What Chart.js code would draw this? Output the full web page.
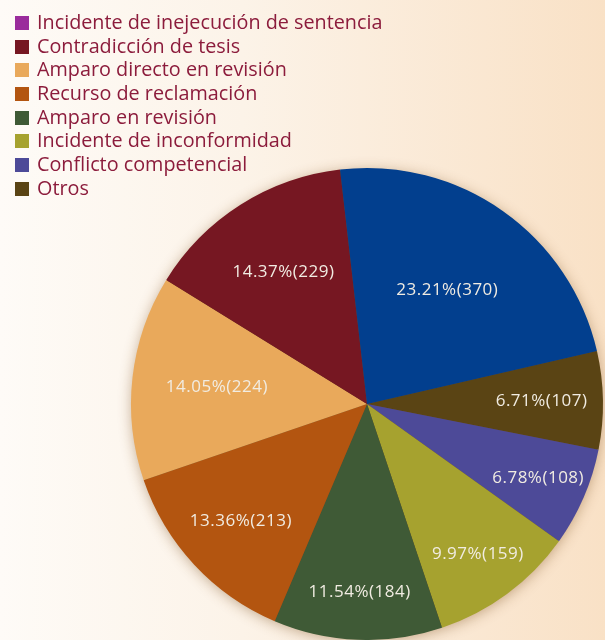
<!DOCTYPE html>
<html>
<head>
<meta charset="utf-8">
<script src="https://cdn.jsdelivr.net/npm/chart.js@4"></script>
<style>
  html, body { margin: 0; padding: 0; }
  body { width: 605px; height: 640px; overflow: hidden;
    background: linear-gradient(to right, #fefbf7 0%, #fcf3e8 40%, #f9e1c6 100%); position: relative; }
  #wrap { position: absolute; left: 0; top: 0; width: 605px; height: 640px; }
  #legend { position: absolute; left: 15px; top: 10px; font-family: "Open Sans", "Noto Sans", sans-serif;
    font-size: 19.8px; color: #8c1c3c; }
  #legend .row { height: 23.7px; line-height: 23.7px; white-space: nowrap; }
  #legend .sw { display: inline-block; width: 14px; height: 14px; margin-right: 8px; vertical-align: -1px; }
</style>
</head>
<body>
<div id="wrap"><canvas id="c" width="605" height="640"></canvas></div>
<div id="legend"></div>
<script>
const categories = [
  "Incidente de inejecución de sentencia",
  "Contradicción de tesis",
  "Amparo directo en revisión",
  "Recurso de reclamación",
  "Amparo en revisión",
  "Incidente de inconformidad",
  "Conflicto competencial",
  "Otros"
];
const counts = [370, 229, 224, 213, 184, 159, 108, 107];
const percentLabels = ["23.21%", "14.37%", "14.05%", "13.36%", "11.54%", "9.97%", "6.78%", "6.71%"];
const sliceColors = ["#023f8e", "#761722", "#e9a95b", "#b35510", "#3f5a36", "#a6a22f", "#4d4a98", "#5a4414"];
const legendColors = ["#9a2c9c", "#761722", "#e9a95b", "#b35510", "#3f5a36", "#a6a22f", "#4d4a98", "#5a4414"];

// legend
const lg = document.getElementById('legend');
categories.forEach((c, i) => {
  const r = document.createElement('div'); r.className = 'row';
  const s = document.createElement('span'); s.className = 'sw'; s.style.background = legendColors[i];
  r.appendChild(s); r.appendChild(document.createTextNode(c)); lg.appendChild(r);
});

// pie is drawn counter-clockwise in legend order -> reverse for Chart.js (clockwise)
const order = counts.map((_, i) => i).reverse();
const dataVals = order.map(i => counts[i]);
const dataLabels = order.map(i => categories[i]);
const dataColors = order.map(i => sliceColors[i]);
const dataText = order.map(i => percentLabels[i] + "(" + counts[i] + ")");

// label distance from centre (fraction of radius), legend order — styling only
const labelRadiusStyle = [0.59, 0.66, 0.64, 0.73, 0.80, 0.79, 0.79, 0.74];
const labelRadius = order.map(i => labelRadiusStyle[i]);

const shadowPlugin = {
  id: 'shadow',
  beforeDatasetsDraw(chart) {
    const meta = chart.getDatasetMeta(0);
    const a = meta.data[0];
    const ctx = chart.ctx;
    ctx.save();
    ctx.shadowColor = 'rgba(120,70,20,0.45)';
    ctx.shadowBlur = 14;
    ctx.shadowOffsetX = 0; ctx.shadowOffsetY = 2;
    ctx.fillStyle = '#6a4a2a';
    ctx.beginPath();
    ctx.arc(a.x, a.y, a.outerRadius - 1, 0, Math.PI * 2);
    ctx.fill();
    ctx.restore();
  }
};

const labelPlugin = {
  id: 'sliceLabels',
  afterDatasetsDraw(chart) {
    const meta = chart.getDatasetMeta(0);
    const ctx = chart.ctx;
    ctx.save();
    ctx.font = '17px "Open Sans", "Noto Sans", sans-serif';
    if ('letterSpacing' in ctx) ctx.letterSpacing = '0.5px';
    ctx.fillStyle = '#f1ece2';
    ctx.textAlign = 'center';
    ctx.textBaseline = 'middle';
    meta.data.forEach((arc, i) => {
      const mid = (arc.startAngle + arc.endAngle) / 2;
      const r = arc.outerRadius * labelRadius[i];
      ctx.fillText(dataText[i], arc.x + Math.cos(mid) * r, arc.y + Math.sin(mid) * r);
    });
    ctx.restore();
  }
};

new Chart(document.getElementById('c'), {
  type: 'pie',
  data: {
    labels: dataLabels,
    datasets: [{ data: dataVals, backgroundColor: dataColors, borderWidth: 0 }]
  },
  options: {
    responsive: false,
    animation: false,
    rotation: 77,
    layout: { padding: { left: 130, right: 1, top: 168, bottom: 0 } },
    plugins: { legend: { display: false }, tooltip: { enabled: false } }
  },
  plugins: [shadowPlugin, labelPlugin]
});
</script>
</body>
</html>
